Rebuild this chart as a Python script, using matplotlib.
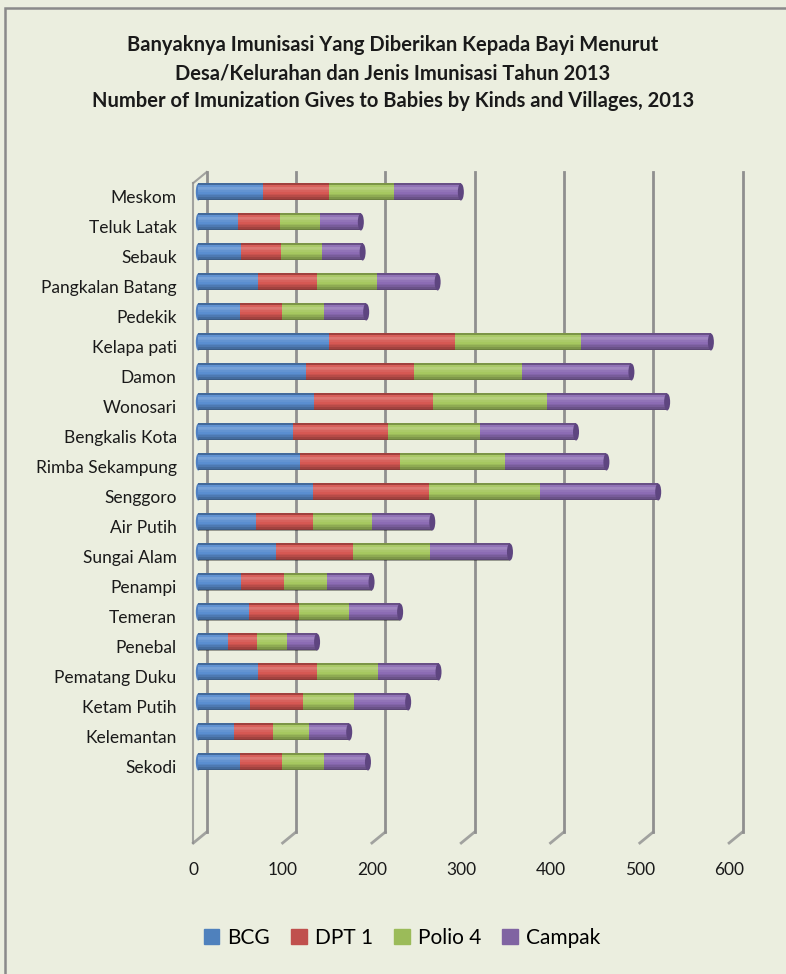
import matplotlib.pyplot as plt
import numpy as np
from matplotlib.patches import Rectangle, Ellipse
from matplotlib.transforms import ScaledTranslation

villages = ["Meskom", "Teluk Latak", "Sebauk", "Pangkalan Batang", "Pedekik",
            "Kelapa pati", "Damon", "Wonosari", "Bengkalis Kota", "Rimba Sekampung",
            "Senggoro", "Air Putih", "Sungai Alam", "Penampi", "Temeran",
            "Penebal", "Pematang Duku", "Ketam Putih", "Kelemantan", "Sekodi"]
bcg    = [73, 45, 48, 67, 47, 146, 121, 130, 106, 114, 128, 65, 87, 48, 57, 33, 67, 58, 40, 47]
dpt1   = [73, 46, 45, 66, 47, 141, 121, 133, 106, 112, 130, 64, 86, 48, 56, 33, 66, 59, 44, 47]
polio4 = [73, 45, 45, 67, 47, 141, 120, 128, 104, 118, 125, 66, 86, 48, 56, 33, 68, 57, 40, 47]
campak = [75, 46, 46, 68, 47, 146, 123, 134, 107, 113, 132, 67, 90, 50, 57, 34, 68, 61, 45, 49]
series = ["BCG", "DPT 1", "Polio 4", "Campak"]
colors = ["#5A8ED0", "#D65853", "#A6C860", "#8C6CB4"]
legend_colors = ["#4F81BD", "#C0504D", "#9BBB59", "#8064A2"]
ticks = [0, 100, 200, 300, 400, 500, 600]

bg = "#EBEEDF"
plt.rcParams['font.family'] = ['Lato', 'DejaVu Sans']

W, H = 786, 974
fig = plt.figure(figsize=(W / 100, H / 100), dpi=100, facecolor=bg)

# outer chart border (only top/left visible, the rest is cropped)
fig.patches.append(Rectangle((5 / W, -0.1), 1.2, 1 - 8 / H + 0.1, transform=fig.transFigure,
                             fill=False, edgecolor="#8a8a8a", linewidth=1.8))

# plot area in pixels: front floor at y=843, top at y=172, x 0 -> 193.3, 600 -> 729.1
x0, x1 = 193.3, 729.1
ytop, ybot = 172, 843
ax = fig.add_axes([x0 / W, (H - ybot) / H, (x1 - x0) / W, (ybot - ytop) / H])
ax.set_facecolor("none")
for s in ax.spines.values():
    s.set_visible(False)

n = len(villages)
row0, rowpx = 197, 30
ax.set_xlim(0, 600)
ax.set_ylim((ybot - row0) / rowpx, (ytop - row0) / rowpx)

pxu = (x1 - x0) / 600.0
back_dx = 13.4 / pxu
back_dy = -11 / rowpx
y_floor = (ybot - row0) / rowpx
y_top = (ytop - row0) / rowpx

gc = "#8f8f8f"
for v in ticks:
    ax.plot([v + back_dx, v + back_dx], [y_top, y_floor + back_dy], color=gc, lw=2, clip_on=False, zorder=1)
    ax.plot([v + back_dx, v], [y_floor + back_dy, y_floor], color=gc, lw=2, clip_on=False, zorder=1, alpha=0.8)
# left wall
ax.plot([0, 0], [y_top - back_dy, y_floor], color=gc, lw=1.5, clip_on=False, zorder=1, alpha=0.8)
ax.plot([0, back_dx], [y_top - back_dy, y_top], color=gc, lw=1.5, clip_on=False, zorder=1, alpha=0.8)

# bars sit slightly behind the front plane
bar_tr = ax.transData + ScaledTranslation(5 / 100, 5 / 100, fig.dpi_scale_trans)
ypos = np.arange(n)
h = 17 / rowpx
# shading profile top -> bottom (negative = darker, positive = lighter)
shade = [-0.25, 0.05, 0.18, 0.14, 0.06, 0.0, -0.06, -0.14, -0.24, -0.35]
ns = len(shade)
left = np.zeros(n)
for vals, c in zip([bcg, dpt1, polio4, campak], colors):
    vals = np.array(vals)
    ax.barh(ypos, vals, left=left, height=h, color=c, linewidth=0, transform=bar_tr, zorder=3)
    for k, a in enumerate(shade):
        if a == 0:
            continue
        yk = ypos - h / 2 + (k + 0.5) * h / ns
        ax.barh(yk, vals, left=left, height=h / ns, color="white" if a > 0 else "black",
                alpha=abs(a), linewidth=0, transform=bar_tr, zorder=4)
    left = left + vals

for i in range(n):
    ax.add_patch(Ellipse((left[i], i), 6 / pxu, h, facecolor="#5E4580", edgecolor="none",
                         transform=bar_tr, zorder=5))
    ax.add_patch(Ellipse((0, i), 5 / pxu, h, facecolor="#4F80C2", edgecolor="none",
                         transform=bar_tr, zorder=2))

ax.set_yticks(ypos)
ax.set_yticklabels(villages, fontsize=12.5, color="#1a1a1a")
ax.set_xticks(ticks)
ax.set_xticklabels([str(t) for t in ticks], fontsize=12.5, color="#1a1a1a")
ax.tick_params(axis='y', length=0, pad=12)
ax.tick_params(axis='x', length=0, pad=14)

fig.text(0.5, 1 - 45 / H, "Banyaknya Imunisasi Yang Diberikan Kepada Bayi Menurut",
         ha="center", va="center", fontsize=14.5, fontweight="bold", color="#1a1a1a")
fig.text(0.5, 1 - 73 / H, "Desa/Kelurahan dan Jenis Imunisasi Tahun 2013",
         ha="center", va="center", fontsize=14.5, fontweight="bold", color="#1a1a1a")
fig.text(0.5, 1 - 101 / H, "Number of Imunization Gives to Babies by Kinds and Villages, 2013",
         ha="center", va="center", fontsize=14.5, fontweight="bold", color="#1a1a1a")

handles = [Rectangle((0, 0), 1, 1, color=c) for c in legend_colors]
fig.legend(handles, series, loc="center", bbox_to_anchor=(402 / W, 1 - 938 / H), ncol=4,
           frameon=False, fontsize=15, handlelength=0.75, handleheight=0.75,
           handletextpad=0.4, columnspacing=1.0)

fig.savefig("out.png", dpi=100, facecolor=bg)
